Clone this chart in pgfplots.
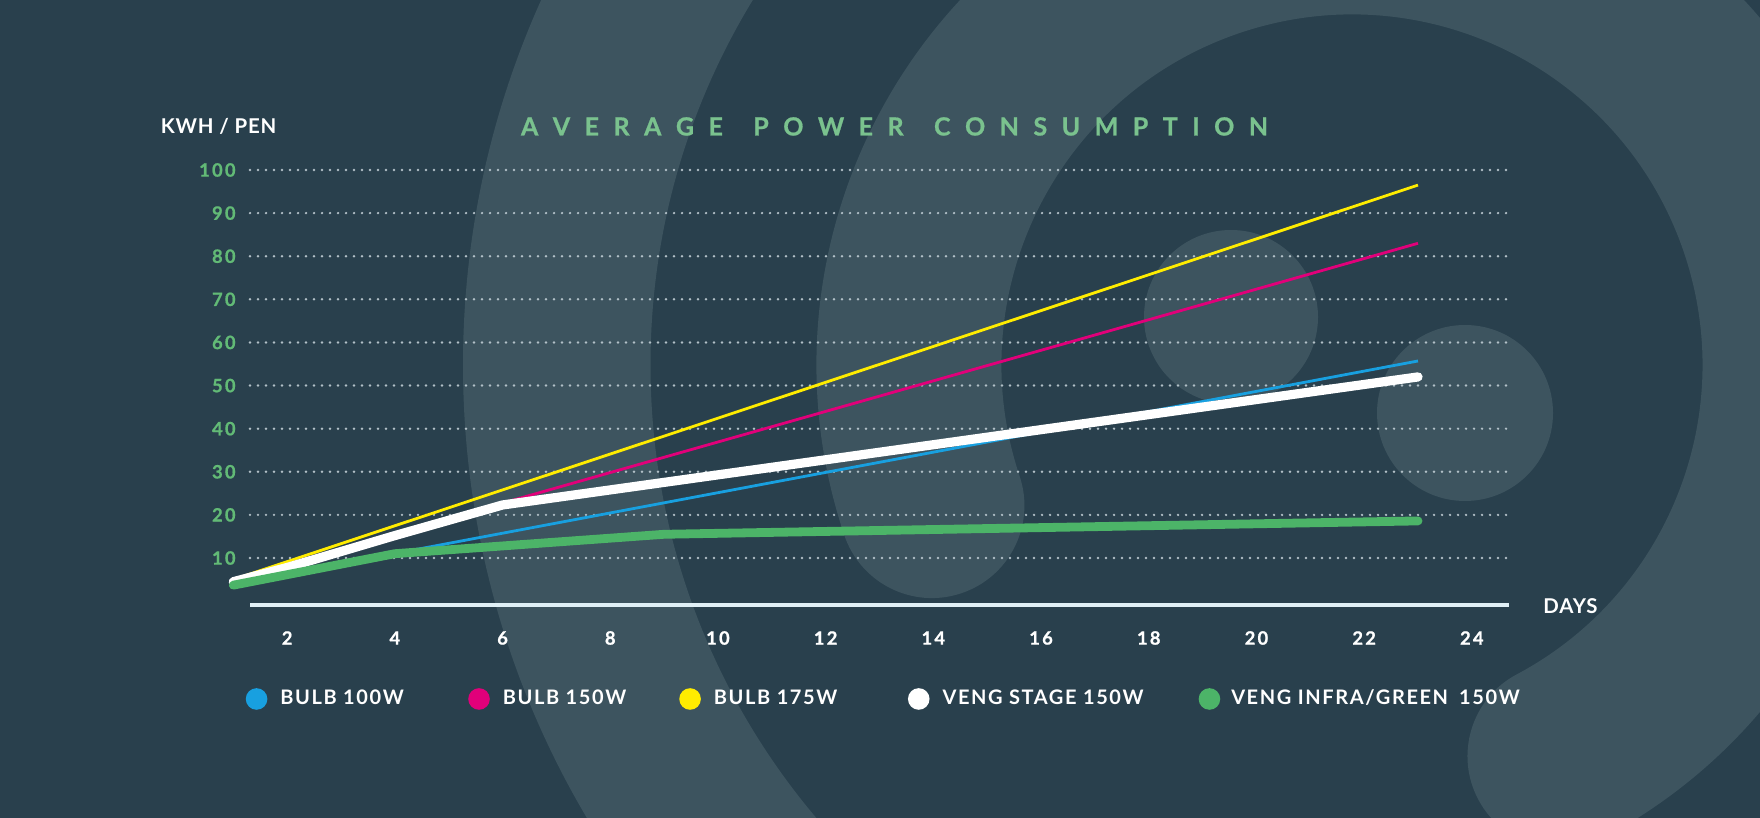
\documentclass[border=0pt]{standalone}
\usepackage{fontspec}
\setmainfont{Lato}
\newfontfamily\tickfont{Lato}[LetterSpace=12, FakeBold=0.8]
\newfontfamily\titlefont{Lato}[FakeBold=0.8]
\newfontfamily\legfont{Lato}[LetterSpace=8]
\newfontfamily\labfont{Lato}[LetterSpace=4]
\usepackage{pgfplots}
\pgfplotsset{compat=1.18}
\definecolor{bgdark}{RGB}{41,64,77}
\definecolor{bglight}{RGB}{61,84,95}
\definecolor{cblue}{RGB}{24,160,224}
\definecolor{cpink}{RGB}{225,0,122}
\definecolor{cyellow}{RGB}{255,236,0}
\definecolor{cgreen}{RGB}{76,180,104}
\definecolor{tickgreen}{RGB}{98,186,118}
\definecolor{titlegreen}{RGB}{122,194,142}
\definecolor{axisc}{RGB}{224,240,246}
\definecolor{gridc}{RGB}{178,192,199}

\begin{document}
\begin{tikzpicture}
\begin{scope}[x=0.5pt,y=0.5pt]
\fill[bgdark] (0,0) rectangle (1760,818);
\begin{scope}
\clip (0,0) rectangle (1760,818);
\fill[bglight, even odd rule] (1352,453) circle[radius=889] (1352,453) circle[radius=701.5];
\draw[bglight, line width=92.5pt, line cap=round] (1352,453) ++(198.5:443) arc[start angle=198.5, end angle=-62, radius=443];
\fill[bglight] (1231,501) circle[radius=87];
\fill[bglight] (1465,405) circle[radius=88];
\end{scope}
\path[use as bounding box] (0,0) rectangle (1760,818);
\end{scope}

\begin{axis}[
  at={(125pt,106.5pt)}, anchor=south west,
  scale only axis, width=629.5pt, height=217.5pt,
  xmin=1.31, xmax=24.69, ymin=-0.9, ymax=100,
  clip=false,
  axis x line=bottom, axis y line=left,
  x axis line style={draw=axisc, line width=1.7pt, -},
  y axis line style={draw=none},
  xtick={2,4,...,24}, ytick={10,20,...,100},
  major tick length=0pt,
  ymajorgrids,
  grid style={draw=gridc, line width=1.35pt, line cap=round, dash pattern=on 0pt off 4pt},
  /pgf/number format/assume math mode=true,
  xticklabel style={font=\tickfont\bfseries\fontsize{9.2}{10}\selectfont, text=white, inner sep=0pt, anchor=center, yshift=-16.5pt},
  yticklabel style={font=\tickfont\bfseries\fontsize{9.2}{10}\selectfont, text=tickgreen, inner sep=0pt, anchor=east, xshift=-7pt},
  legend columns=5,
  legend style={at={(axis cs:1.224,-22.7)}, anchor=west, draw=none, fill=none, text=white,
    font=\legfont\bfseries\fontsize{10}{12}\selectfont, inner sep=0pt,
    nodes={inner sep=0pt},
    /tikz/column 1/.style={column sep=6.5pt},
    /tikz/column 2/.style={column sep=32.2pt},
    /tikz/column 3/.style={column sep=6.5pt},
    /tikz/column 4/.style={column sep=26.5pt},
    /tikz/column 5/.style={column sep=6.5pt},
    /tikz/column 6/.style={column sep=35.3pt},
    /tikz/column 7/.style={column sep=6.5pt},
    /tikz/column 8/.style={column sep=27.5pt},
    /tikz/column 9/.style={column sep=5.5pt}},
  legend cell align=left,
  legend image code/.code={\fill[draw=none] (0pt,0pt) circle (5.4pt);},
]
\addplot[cblue, line width=1.4pt] coordinates {(1,4) (23,55.7)};
\addplot[cpink, line width=1.4pt] coordinates {(1,5) (23,83)};
\addplot[cyellow, line width=1.4pt] coordinates {(1,5) (23,96.5)};
\addplot[white, line width=4.6pt, line cap=round, line join=round] coordinates {(1,4.5) (2,7.8) (4,15.2) (6,22.3) (23,52)};
\addplot[cgreen, line width=4.4pt, line cap=round, line join=round] coordinates {(1,3.7) (4,11) (9,15.5) (23,18.6)};
\legend{BULB 100W, BULB 150W, BULB 175W, VENG STAGE 150W, VENG INFRA/GREEN\hspace{0.55em}150W}
\end{axis}

\begin{scope}[x=0.5pt,y=0.5pt]
\node[anchor=base west, text=white, font=\labfont\bfseries\fontsize{10.2}{12}\selectfont, inner sep=0pt] at (160.5,684.5) {KWH / PEN};
\node[anchor=base west, text=white, font=\labfont\bfseries\fontsize{10.2}{12}\selectfont, inner sep=0pt] at (1543,204.5) {DAYS};
\node[anchor=base, text=titlegreen, font=\titlefont\bfseries\fontsize{12.5}{14}\selectfont, inner sep=0pt] at (894.5,682.5)
  {\makebox[373.5pt]{A\hfill V\hfill E\hfill R\hfill A\hfill G\hfill E\hskip 0pt plus 2.1fill P\hfill O\hfill W\hfill E\hfill R\hskip 0pt plus 2.1fill C\hfill O\hfill N\hfill S\hfill U\hfill M\hfill P\hfill T\hfill I\hfill O\hfill N}};
\end{scope}
\end{tikzpicture}
\end{document}
